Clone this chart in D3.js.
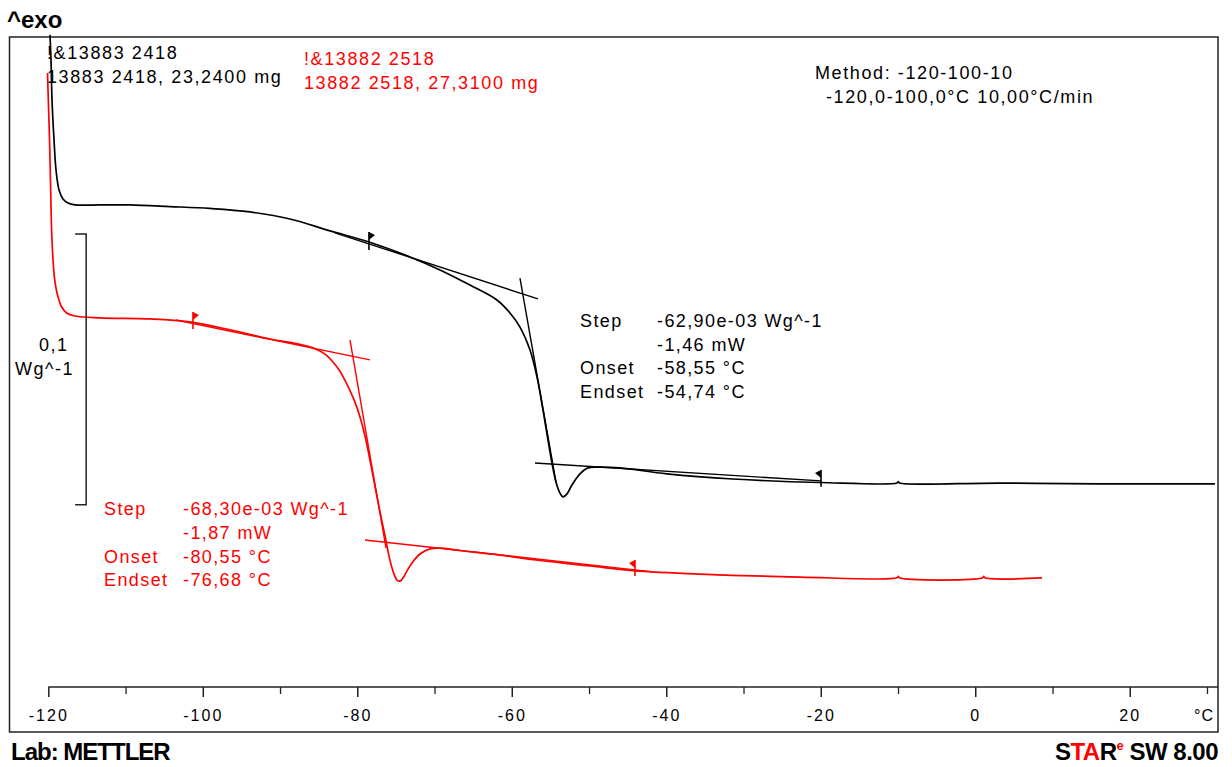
<!DOCTYPE html>
<html>
<head>
<meta charset="utf-8">
<script src="https://cdn.jsdelivr.net/npm/d3@7"></script>
<style>
  html, body { margin: 0; padding: 0; background: #fff; }
  svg { display: block; }
  text { font-family: "Liberation Sans", Arial, sans-serif; }
</style>
</head>
<body>
<svg id="chart" width="1232" height="767"></svg>
<script>
// ---------- DATA ----------
const majorTicks = [-120, -100, -80, -60, -40, -20, 0, 20];
const minorTicks = [-110, -90, -70, -50, -30, -10, 10, 30];
const unitLabel = "°C";

// Black curve: 13883 2418 (temperature °C, heat flow in mWg^-1, relative)
const blackT = [-119.78, -119.65, -119.52, -119.26, -119.0, -118.61, -118.10, -117.45, -116.54, -113.31, -109.42,
  -104.25, -99.07, -93.89, -88.71, -83.53, -78.49, -73.18, -69.29, -65.41, -61.92, -60.23, -58.94, -57.64, -56.74, -55.96,
  -55.31, -54.80, -54.28, -53.76, -53.37, -52.85, -52.21, -51.17, -50.14, -48.97, -45.99, -39.91, -31.37, -20.10,
  -10.14, -9.97, -9.80, 3.2, 16.14, 31.03];
const blackV = [240.8, 231.5, 216.8, 202.0, 190.9, 183.5, 180.2, 178.7, 178.0, 178.0, 178.0,
  177.4, 176.7, 175.4, 172.8, 168.4, 164.3, 158.8, 154.0, 148.4, 142.9, 138.1, 132.9, 124.4, 114.5, 102.3,
  91.2, 82.7, 75.7, 71.6, 70.2, 71.3, 74.6, 78.7, 80.9, 81.2, 80.9, 78.7, 76.8, 75.5,
  75.3, 75.8, 75.3, 75.3, 75.0, 75.0];

// Red curve: 13882 2518
const redT = [-120.10, -120.0, -119.84, -119.72, -119.56, -119.39, -119.20, -118.87, -118.27, -117.62, -116.54,
  -113.31, -106.83, -101.66, -96.48, -91.30, -87.42, -85.48, -84.18, -83.15, -82.24, -81.59, -80.94, -80.30,
  -79.65, -79.00, -78.36, -77.71, -77.06, -76.41, -75.90, -75.38, -74.86, -74.47, -74.08, -73.57, -72.92,
  -71.88, -70.59, -69.29, -66.71, -61.53, -56.35, -49.88, -44.31, -35.64, -22.69, -10.14, -9.97, -9.80,
  0.95, 1.10, 1.25, 8.63];
const redV = [226.7, 216.8, 202.0, 187.2, 167.7, 157.7, 151.1, 145.5, 140.3, 138.1, 137.0,
  136.3, 135.9, 134.8, 131.9, 128.5, 126.5, 124.9, 122.9, 120.0, 116.6, 113.2, 109.4, 105.2,
  99.7, 92.7, 83.8, 74.2, 64.6, 55.8, 48.4, 42.8, 39.5, 39.1, 40.3, 42.8, 45.8,
  49.1, 51.0, 51.3, 50.4, 48.7, 46.7, 44.7, 43.0, 41.7, 40.6, 40.3, 40.9, 40.3,
  40.3, 40.9, 40.3, 40.3];

// Evaluation tangents [[T1,v1],[T2,v2]]
const blackTangents = [
  [[-82.89, 167.7], [-56.61, 143.3]],
  [[-58.94, 151.0], [-54.28, 75.7]],
  [[-57.0, 82.7], [-19.97, 76.1]]
];
const redTangents = [
  [[-103.47, 135.5], [-78.36, 120.8]],
  [[-80.94, 128.1], [-76.28, 51.3]],
  [[-79.0, 54.3], [-41.72, 42.5]]
];
// Evaluation limit flags: temperature, top, bottom, direction
const blackFlags = [{t: -78.49, top: 168.0, bottom: 161.4, dir: 1}, {t: -19.97, top: 80.1, bottom: 73.9, dir: -1}];
const redFlags = [{t: -101.27, top: 138.5, bottom: 132.2, dir: 1}, {t: -44.05, top: 46.9, bottom: 41.0, dir: -1}];

// Scale bar: 0.1 Wg^-1 = 100 units
const scaleBarT = -115.1, scaleBarTop = 167.3, scaleBarSize = 100;

const blackHeader = ["!&13883 2418", "13883 2418, 23,2400 mg"];
const redHeader = ["!&13882 2518", "13882 2518, 27,3100 mg"];
const methodText = ["Method: -120-100-10", "-120,0-100,0°C 10,00°C/min"];
const blackResult = [["Step", "-62,90e-03 Wg^-1"], ["", "-1,46 mW"], ["Onset", "-58,55 °C"], ["Endset", "-54,74 °C"]];
const redResult = [["Step", "-68,30e-03 Wg^-1"], ["", "-1,87 mW"], ["Onset", "-80,55 °C"], ["Endset", "-76,68 °C"]];

// ---------- CHART ----------
const RED = "#ff0000", BLK = "#000000";
const svg = d3.select("#chart");
const frame = {left: 9.5, top: 37, right: 1218, bottom: 732};
const axisY = 687;

const x = d3.scaleLinear().domain([-120, 30]).range([48.3, 1207]);
const y = d3.scaleLinear().domain([0, 240]).range([687, 37]);

svg.append("rect").attr("width", 1232).attr("height", 767).attr("fill", "#fff");

// frame
svg.append("rect")
  .attr("x", frame.left).attr("y", frame.top)
  .attr("width", frame.right - frame.left).attr("height", frame.bottom - frame.top)
  .attr("fill", "none").attr("stroke", "#222").attr("stroke-width", 1.5);

// x axis
const axisG = svg.append("g").attr("transform", `translate(0,${axisY})`);
axisG.append("line").attr("x1", x(-120)).attr("x2", frame.right).attr("y1", 0).attr("y2", 0)
  .attr("stroke", "#222").attr("stroke-width", 1.5);
const majAxis = d3.axisBottom(x).tickValues(majorTicks).tickSize(10).tickPadding(12.5).tickFormat(d => String(d));
const gMaj = axisG.append("g").call(majAxis);
gMaj.select(".domain").remove();
gMaj.selectAll(".tick line").attr("stroke", "#222").attr("stroke-width", 1.5);
gMaj.selectAll(".tick text").attr("font-size", 16).attr("letter-spacing", "2px")
  .attr("font-family", '"Liberation Sans", Arial, sans-serif').attr("fill", "#000").attr("dy", "0.71em");
const minAxis = d3.axisBottom(x).tickValues(minorTicks).tickSize(7).tickFormat("");
const gMin = axisG.append("g").call(minAxis);
gMin.select(".domain").remove();
gMin.selectAll(".tick line").attr("stroke", "#222").attr("stroke-width", 1.3);

svg.append("text").attr("x", 1214).attr("y", 721).attr("text-anchor", "end")
  .attr("font-size", 16).attr("letter-spacing", "1px").text(unitLabel);

// curves
const line = d3.line().x(d => x(d[0])).y(d => y(d[1])).curve(d3.curveCatmullRom.alpha(0.5));
const blackData = blackT.map((t, i) => [t, blackV[i]]);
const redData = redT.map((t, i) => [t, redV[i]]);

function drawTangents(list, color) {
  list.forEach(seg => {
    svg.append("line")
      .attr("x1", x(seg[0][0])).attr("y1", y(seg[0][1]))
      .attr("x2", x(seg[1][0])).attr("y2", y(seg[1][1]))
      .attr("stroke", color).attr("stroke-width", 1.4);
  });
}
function drawFlags(list, color) {
  list.forEach(f => {
    const fx = x(f.t), ft = y(f.top), fb = y(f.bottom);
    svg.append("line").attr("x1", fx).attr("x2", fx).attr("y1", ft).attr("y2", fb)
      .attr("stroke", color).attr("stroke-width", 1.6);
    svg.append("path")
      .attr("d", `M${fx},${ft} L${fx + 6 * f.dir},${ft + 3} L${fx},${ft + 8} Z`)
      .attr("fill", color);
  });
}

drawTangents(redTangents, RED);
drawTangents(blackTangents, BLK);
svg.append("path").datum(redData).attr("d", line).attr("fill", "none").attr("stroke", RED).attr("stroke-width", 1.7);
svg.append("path").datum(blackData).attr("d", line).attr("fill", "none").attr("stroke", BLK).attr("stroke-width", 1.7);
drawFlags(redFlags, RED);
drawFlags(blackFlags, BLK);

// scale bar
const sbx = x(scaleBarT);
const sbTop = y(scaleBarTop), sbBot = y(scaleBarTop - scaleBarSize);
svg.append("path")
  .attr("d", `M${sbx - 11},${sbTop} H${sbx} V${sbBot} H${sbx - 11}`)
  .attr("fill", "none").attr("stroke", "#222").attr("stroke-width", 1.5);
svg.append("text").attr("x", 39).attr("y", 351).attr("font-size", 18).attr("letter-spacing", "1.5px").text("0,1");
svg.append("text").attr("x", 15).attr("y", 375).attr("font-size", 18).attr("letter-spacing", "1.5px").text("Wg^-1");

// text blocks
function textLine(s, x0, y0, color) {
  svg.append("text").attr("x", x0).attr("y", y0)
    .attr("font-size", 18).attr("letter-spacing", "1.6px").attr("fill", color).text(s);
}
blackHeader.forEach((s, i) => textLine(s, 47, 59 + i * 24, BLK));
redHeader.forEach((s, i) => textLine(s, 304, 65 + i * 24, RED));
textLine(methodText[0], 815, 79, BLK);
textLine(methodText[1], 826, 103, BLK);

function resultBlock(rows, x0, x1, y0, dy, color) {
  rows.forEach((r, i) => {
    if (r[0]) svg.append("text").attr("x", x0).attr("y", y0 + i * dy).attr("font-size", 18)
      .attr("letter-spacing", "1.4px").attr("fill", color).text(r[0]);
    svg.append("text").attr("x", x1).attr("y", y0 + i * dy).attr("font-size", 18)
      .attr("letter-spacing", "1.4px").attr("fill", color).text(r[1]);
  });
}
resultBlock(blackResult, 580, 657, 327, 23.6, BLK);
resultBlock(redResult, 104, 183, 515, 23.8, RED);

// header / footer
svg.append("text").attr("x", 7).attr("y", 28).attr("font-size", 24).attr("font-weight", "bold").text("^exo");
svg.append("text").attr("x", 11).attr("y", 760).attr("font-size", 24).attr("font-weight", "bold")
  .attr("letter-spacing", "-1px").text("Lab: METTLER");

const star = svg.append("text").attr("x", 1218).attr("y", 760).attr("font-size", 24)
  .attr("font-weight", "bold").attr("text-anchor", "end").attr("letter-spacing", "-0.5px");
star.append("tspan").attr("fill", BLK).text("S");
star.append("tspan").attr("fill", RED).text("TA");
star.append("tspan").attr("fill", BLK).text("R");
star.append("tspan").attr("fill", RED).attr("font-size", 13).attr("dy", -10).text("e");
star.append("tspan").attr("fill", BLK).attr("dy", 10).text(" SW 8.00");
</script>
</body>
</html>
